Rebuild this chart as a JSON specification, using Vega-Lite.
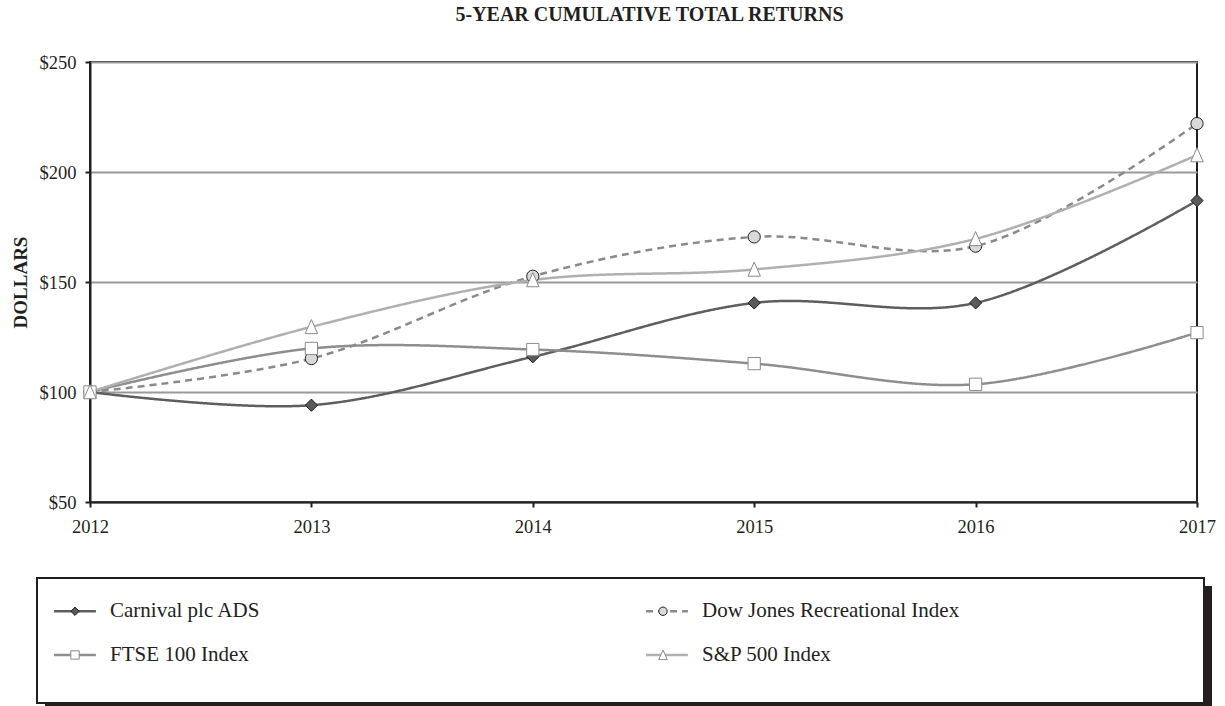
{
  "$schema": "https://vega.github.io/schema/vega-lite/v6.json",
  "width": 1107,
  "height": 440,
  "autosize": "none",
  "padding": {"left": 90, "top": 62, "right": 28, "bottom": 204},
  "background": "white",
  "title": {
    "text": "5-YEAR CUMULATIVE TOTAL RETURNS",
    "font": "Liberation Serif",
    "fontSize": 20,
    "fontWeight": "bold",
    "color": "#231f20",
    "anchor": "middle",
    "frame": "group",
    "dx": 6,
    "baseline": "alphabetic",
    "offset": 12
  },
  "data": {
    "values": [
      {"series": "Carnival plc ADS", "year": 2012, "value": 100},
      {"series": "Carnival plc ADS", "year": 2013, "value": 94},
      {"series": "Carnival plc ADS", "year": 2014, "value": 116},
      {"series": "Carnival plc ADS", "year": 2015, "value": 140.5},
      {"series": "Carnival plc ADS", "year": 2016, "value": 140.5},
      {"series": "Carnival plc ADS", "year": 2017, "value": 187},
      {"series": "Dow Jones Recreational Index", "year": 2012, "value": 100},
      {"series": "Dow Jones Recreational Index", "year": 2013, "value": 115.2},
      {"series": "Dow Jones Recreational Index", "year": 2014, "value": 152.6},
      {"series": "Dow Jones Recreational Index", "year": 2015, "value": 170.5},
      {"series": "Dow Jones Recreational Index", "year": 2016, "value": 166.3},
      {"series": "Dow Jones Recreational Index", "year": 2017, "value": 222},
      {"series": "FTSE 100 Index", "year": 2012, "value": 100},
      {"series": "FTSE 100 Index", "year": 2013, "value": 119.8},
      {"series": "FTSE 100 Index", "year": 2014, "value": 119.3},
      {"series": "FTSE 100 Index", "year": 2015, "value": 112.9},
      {"series": "FTSE 100 Index", "year": 2016, "value": 103.5},
      {"series": "FTSE 100 Index", "year": 2017, "value": 127},
      {"series": "S&P 500 Index", "year": 2012, "value": 100},
      {"series": "S&P 500 Index", "year": 2013, "value": 129.6},
      {"series": "S&P 500 Index", "year": 2014, "value": 150.9},
      {"series": "S&P 500 Index", "year": 2015, "value": 155.7},
      {"series": "S&P 500 Index", "year": 2016, "value": 169.6},
      {"series": "S&P 500 Index", "year": 2017, "value": 207.7}
    ]
  },
  "encoding": {
    "x": {
      "field": "year",
      "type": "quantitative",
      "scale": {"domain": [2012, 2017], "nice": false, "zero": false},
      "axis": {
        "values": [2012, 2013, 2014, 2015, 2016, 2017],
        "format": "d",
        "title": null,
        "grid": false,
        "labelFlush": false,
        "labelOverlap": false,
        "labelPadding": 10
      }
    },
    "y": {
      "field": "value",
      "type": "quantitative",
      "scale": {"domain": [50, 250], "nice": false, "zero": false},
      "axis": {
        "values": [50, 100, 150, 200, 250],
        "labelExpr": "'$' + datum.value",
        "title": "DOLLARS",
        "titleFont": "Liberation Serif",
        "titleFontSize": 19,
        "titleFontWeight": "bold",
        "titleColor": "#231f20",
        "titleX": -64,
        "titleY": 220,
        "titleAngle": -90,
        "titleAlign": "center",
        "titleBaseline": "alphabetic",
        "grid": true,
        "gridColor": "#9a9a9a",
        "gridWidth": 2,
        "labelPadding": 9,
        "labelFlush": false,
        "labelOverlap": false
      }
    }
  },
  "layer": [
    {
      "mark": {"type": "point", "size": 0, "strokeWidth": 0, "opacity": 1},
      "encoding": {
        "color": {
          "field": "value",
          "type": "quantitative",
          "scale": {"range": ["#ffffff", "#ffffff"]},
          "legend": {
            "orient": "none", "legendX": -53, "legendY": 516, "direction": "horizontal",
            "gradientLength": 1167, "gradientThickness": 125,
            "gradientStrokeColor": "#231f20", "gradientStrokeWidth": 2, "gradientOpacity": 1,
            "labelExpr": "''", "labelOpacity": 0, "title": null, "padding": 0, "zindex": 2
          }
        },
        "fill": {
          "field": "year",
          "type": "quantitative",
          "scale": {"range": ["#231f20", "#231f20"]},
          "legend": {
            "orient": "none", "legendX": -45, "legendY": 524, "direction": "horizontal",
            "gradientLength": 1167, "gradientThickness": 125,
            "gradientStrokeWidth": 0, "gradientOpacity": 1,
            "labelExpr": "''", "labelOpacity": 0, "title": null, "padding": 0, "zindex": 1
          }
        }
      }
    },
    {
      "mark": {"type": "line", "interpolate": "catmull-rom", "strokeWidth": 2.5},
      "encoding": {
        "color": {
          "field": "series",
          "type": "nominal",
          "scale": {
            "domain": ["Carnival plc ADS", "Dow Jones Recreational Index", "FTSE 100 Index", "S&P 500 Index"],
            "range": ["#5e5e5e", "#8a8a8a", "#8e8e8e", "#b0b0b0"]
          },
          "legend": {
            "orient": "none", "legendX": -36.5, "legendY": 538.5, "direction": "horizontal",
            "columns": 2, "columnPadding": 380, "rowPadding": 22,
            "symbolSize": 70, "symbolType": "M-5,0H5", "symbolStrokeWidth": 2.5, "symbolOffset": 11,
            "labelFont": "Liberation Serif", "labelFontSize": 21, "labelColor": "#231f20",
            "labelOffset": 24.5, "labelLimit": 1000,
            "padding": 0, "title": null, "zindex": 3
          }
        },
        "strokeDash": {
          "field": "series",
          "type": "nominal",
          "scale": {
            "domain": ["Carnival plc ADS", "Dow Jones Recreational Index", "FTSE 100 Index", "S&P 500 Index"],
            "range": [[1, 0], [7, 5], [1, 0], [1, 0]]
          },
          "legend": {
            "orient": "none", "legendX": -36.5, "legendY": 538.5, "direction": "horizontal",
            "columns": 2, "columnPadding": 380, "rowPadding": 22,
            "symbolSize": 70, "symbolType": "M-5,0H5", "symbolStrokeWidth": 2.5, "symbolOffset": 11,
            "labelFont": "Liberation Serif", "labelFontSize": 21, "labelColor": "#231f20",
            "labelOffset": 24.5, "labelLimit": 1000,
            "padding": 0, "title": null, "zindex": 3
          }
        }
      }
    },
    {
      "mark": {"type": "point", "filled": true, "size": 150, "strokeWidth": 1, "opacity": 1},
      "encoding": {
        "shape": {
          "field": "series",
          "type": "nominal",
          "scale": {"range": ["diamond", "circle", "square", "M0,-1.2L1.02,1.1L-1.02,1.1Z"]},
          "legend": {
            "orient": "none", "legendX": -36.5, "legendY": 538.5, "direction": "horizontal",
            "columns": 2, "columnPadding": 531, "rowPadding": 22,
            "symbolSize": 70, "symbolStrokeWidth": 1, "symbolOffset": 11,
            "labelFont": "Liberation Serif", "labelFontSize": 21, "labelExpr": "''",
            "labelOffset": 24.5, "labelLimit": 1000,
            "padding": 0, "title": null, "zindex": 4
          }
        },
        "fill": {
          "field": "series",
          "type": "nominal",
          "scale": {"range": ["#5a5a5a", "#d9d9d9", "#ffffff", "#ffffff"]},
          "legend": {
            "orient": "none", "legendX": -36.5, "legendY": 538.5, "direction": "horizontal",
            "columns": 2, "columnPadding": 531, "rowPadding": 22,
            "symbolSize": 70, "symbolStrokeWidth": 1, "symbolOffset": 11,
            "labelFont": "Liberation Serif", "labelFontSize": 21, "labelExpr": "''",
            "labelOffset": 24.5, "labelLimit": 1000,
            "padding": 0, "title": null, "zindex": 4
          }
        },
        "stroke": {
          "field": "series",
          "type": "nominal",
          "scale": {"range": ["#231f20", "#231f20", "#8a8a8a", "#8a8a8a"]},
          "legend": {
            "orient": "none", "legendX": -36.5, "legendY": 538.5, "direction": "horizontal",
            "columns": 2, "columnPadding": 531, "rowPadding": 22,
            "symbolSize": 70, "symbolStrokeWidth": 1, "symbolOffset": 11,
            "labelFont": "Liberation Serif", "labelFontSize": 21, "labelExpr": "''",
            "labelOffset": 24.5, "labelLimit": 1000,
            "padding": 0, "title": null, "zindex": 4
          }
        }
      }
    }
  ],
  "resolve": {
    "scale": {
      "color": "independent",
      "fill": "independent",
      "stroke": "independent",
      "shape": "independent",
      "strokeDash": "independent"
    }
  },
  "config": {
    "view": {"stroke": "#231f20", "strokeWidth": 2},
    "axis": {
      "labelFont": "Liberation Serif",
      "labelFontSize": 18.5,
      "labelColor": "#231f20",
      "tickColor": "#231f20",
      "tickWidth": 2,
      "tickSize": 5,
      "domainColor": "#231f20",
      "domainWidth": 2
    }
  }
}
